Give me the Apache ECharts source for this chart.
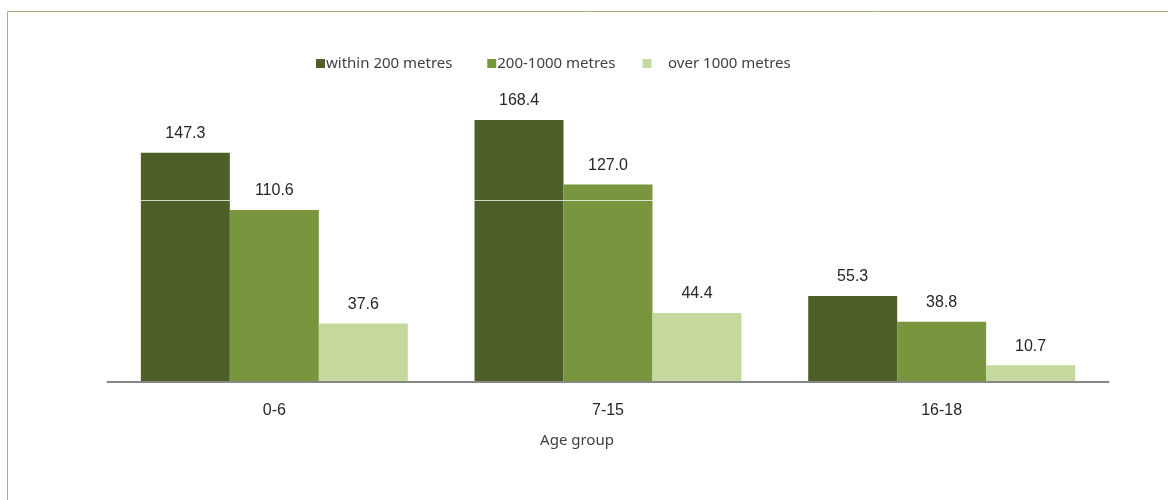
<!DOCTYPE html>
<html>
<head>
<meta charset="utf-8">
<script src="https://cdn.jsdelivr.net/npm/echarts@6/dist/echarts.min.js"></script>
<style>
  html, body { margin: 0; padding: 0; background: #fff; }
  #chart { width: 1168px; height: 500px; }
</style>
</head>
<body>
<div id="chart"></div>
<script>
// Age groups on the category axis
const ageGroups = ['0-6', '7-15', '16-18'];

// Distance bands and their values per age group
const seriesNames = ['within 200 metres', '200-1000 metres', 'over 1000 metres'];
const within200 = [147.3, 168.4, 55.3];
const from200to1000 = [110.6, 127.0, 38.8];
const over1000 = [37.6, 44.4, 10.7];

const seriesColors = ['#4e5e29', '#79953d', '#c5d89d'];
const seriesValues = [within200, from200to1000, over1000];

const chart = echarts.init(document.getElementById('chart'), null, { renderer: 'canvas' });

// Extra spacing around some legend entries
const legendLabel = {
  'within 200 metres': 'within 200 metres  ',
  '200-1000 metres': '200-1000 metres',
  'over 1000 metres': '    over 1000 metres'
};

const option = {
  animation: false,
  backgroundColor: '#ffffff',
  graphic: [{
    type: 'rect',
    silent: true,
    z: 0,
    shape: { x: 7.5, y: 11.5, width: 1300, height: 700 },
    style: { fill: 'none', stroke: '#b3a77c', lineWidth: 1 }
  }],
  legend: {
    left: 311,
    top: 51,
    itemWidth: 9,
    itemHeight: 9,
    itemGap: 27,
    icon: 'rect',
    data: seriesNames,
    formatter: function (name) { return legendLabel[name]; },
    textStyle: {
      fontFamily: 'Noto Sans',
      fontSize: 15,
      color: '#404040',
      padding: [0, 0, 0, -4]
    }
  },
  grid: {
    left: 107.5,
    right: 59.5,
    top: 18,
    bottom: 118,
    containLabel: false
  },
  xAxis: {
    type: 'category',
    data: ageGroups,
    z: 8,
    axisLine: { lineStyle: { color: '#878787', width: 2 } },
    axisTick: { show: false },
    axisLabel: {
      margin: 21,
      fontFamily: 'Liberation Sans',
      fontSize: 16,
      color: '#262626'
    },
    name: 'Age group',
    nameLocation: 'middle',
    nameGap: 51,
    nameTextStyle: {
      fontFamily: 'Noto Sans',
      fontSize: 15,
      color: '#404040',
      padding: [0, 62, 0, 0]
    }
  },
  yAxis: {
    type: 'value',
    min: 0,
    max: 234,
    interval: 117,
    z: 6,
    axisLine: { show: false },
    axisTick: { show: false },
    axisLabel: { show: false },
    splitLine: { show: true, lineStyle: { color: '#ffffff', width: 1, opacity: 0.75 } }
  },
  series: seriesNames.map(function (name, i) {
    return {
      name: name,
      type: 'bar',
      data: seriesValues[i],
      barGap: '0%',
      barCategoryGap: '20%',
      itemStyle: { color: seriesColors[i] },
      label: {
        show: true,
        position: 'top',
        distance: 11,
        fontFamily: 'Liberation Sans',
        fontSize: 16,
        color: '#262626',
        formatter: function (p) { return p.value.toFixed(1); }
      }
    };
  })
};

chart.setOption(option);
</script>
</body>
</html>
